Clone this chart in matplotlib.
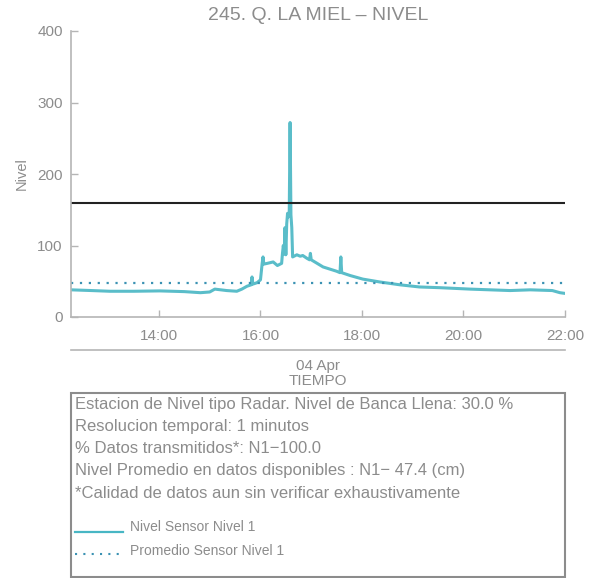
import matplotlib
matplotlib.use("Agg")
import matplotlib.pyplot as plt
import matplotlib.dates as mdates
from matplotlib.lines import Line2D
from matplotlib.patches import Rectangle
import pandas as pd

plt.rcParams['font.family'] = ['Liberation Sans', 'DejaVu Sans']

# data (cm)
fecha = "2021-04-04"
horas = ["12:16", "12:40", "13:02", "13:30", "14:01", "14:30", "14:49", "15:00",
         "15:06", "15:20", "15:32", "15:38", "15:44", "15:49", "15:50", "15:51",
         "15:56", "16:00", "16:02", "16:03", "16:04", "16:08", "16:15", "16:20",
         "16:25", "16:26", "16:27", "16:28", "16:29", "16:30", "16:31", "16:32",
         "16:33", "16:34", "16:35", "16:36", "16:37", "16:38", "16:43", "16:47",
         "16:50", "16:55", "16:58", "16:59", "17:00", "17:07", "17:14", "17:22",
         "17:30", "17:34", "17:35", "17:36", "17:46", "18:01", "18:21", "18:45",
         "19:08", "19:32", "20:08", "20:55", "21:19", "21:45", "21:54", "22:00"]
nivel = [38, 37, 36, 36, 36.5, 35.5, 34, 35,
         39, 37, 36, 39, 43, 45, 56, 46,
         48, 52, 75, 84, 74, 75, 77, 72,
         75, 89, 100, 88, 125, 87, 130, 145,
         140, 146, 272, 143, 125, 84, 87, 85,
         86, 82, 80, 89, 80, 75, 70, 67,
         64, 62, 84, 62, 58, 53, 49, 45,
         42, 41, 39, 37, 38, 37, 34, 33]
promedio = 47.4
banca_llena = 159

tiempo = pd.to_datetime([fecha + " " + h for h in horas])

fig = plt.figure(figsize=(5.95, 5.78), dpi=100)
ax = fig.add_axes([71/595, 1-317/578, 494/595, 286/578])

gris = "#8c8c8c"
teal = "#48b6c4"
azul = "#3b92b3"

ax.plot(tiempo, nivel, color=teal, lw=2.2, alpha=0.9, solid_joinstyle='round')
ax.axhline(promedio, color=azul, lw=1.6, linestyle=(0, (1, 3)))
ax.axhline(banca_llena, color="#222222", lw=1.5)

ax.set_ylim(0, 400)
ax.set_xlim(tiempo[0], tiempo[-1])
ax.set_yticks([0, 100, 200, 300, 400])
ax.xaxis.set_major_locator(mdates.HourLocator(byhour=[14, 16, 18, 20, 22]))
ax.xaxis.set_major_formatter(mdates.DateFormatter("%H:%M"))

for s in ["top", "right"]:
    ax.spines[s].set_visible(False)
for s in ["left", "bottom"]:
    ax.spines[s].set_color("#b5b5b5")
    ax.spines[s].set_linewidth(1.2)
ax.tick_params(direction="in", length=5, width=1, colors="#b5b5b5",
               labelcolor=gris, labelsize=11, pad=6)
ax.tick_params(axis="x", pad=9)
ax.set_ylabel("Nivel", color=gris, fontsize=10.5, labelpad=6)

fig.text(318/595, 1-16/578, "245. Q. LA MIEL \u2013 NIVEL", ha="center", va="center",
         color=gris, fontsize=14)

# segunda linea de eje con la fecha
fig.add_artist(Line2D([71/595, 565/595], [1-350/578, 1-350/578],
                      color="#b5b5b5", lw=1.2, transform=fig.transFigure))
fig.text(318/595, 1-366/578, tiempo[0].strftime("%d %b"), ha="center", va="center",
         color=gris, fontsize=11)
fig.text(318/595, 1-381/578, "TIEMPO", ha="center", va="center",
         color=gris, fontsize=11)

# cuadro de informacion
fig.add_artist(Rectangle((71/595, 1-577/578), 494/595, 184/578, fill=False,
                         edgecolor="#8c8c8c", lw=1.5, transform=fig.transFigure))
lineas = ["Estacion de Nivel tipo Radar. Nivel de Banca Llena: 30.0 %",
          "Resolucion temporal: 1 minutos",
          "% Datos transmitidos*: N1\u2212100.0",
          "Nivel Promedio en datos disponibles : N1\u2212 47.4 (cm)",
          "*Calidad de datos aun sin verificar exhaustivamente"]
for i, t in enumerate(lineas):
    fig.text(75/595, 1-(404+22.3*i)/578, t, ha="left", va="center",
             color=gris, fontsize=12)

fig.add_artist(Line2D([75/595, 123/595], [1-532/578, 1-532/578], color=teal, lw=1.6,
                      transform=fig.transFigure))
fig.text(130/595, 1-527/578, "Nivel Sensor Nivel 1", ha="left", va="center",
         color=gris, fontsize=10)
fig.add_artist(Line2D([75/595, 123/595], [1-554/578, 1-554/578], color=azul, lw=1.5,
                      linestyle=(0, (1, 3)), transform=fig.transFigure))
fig.text(130/595, 1-551/578, "Promedio Sensor Nivel 1", ha="left", va="center",
         color=gris, fontsize=10)

fig.savefig("out.png", dpi=100)
